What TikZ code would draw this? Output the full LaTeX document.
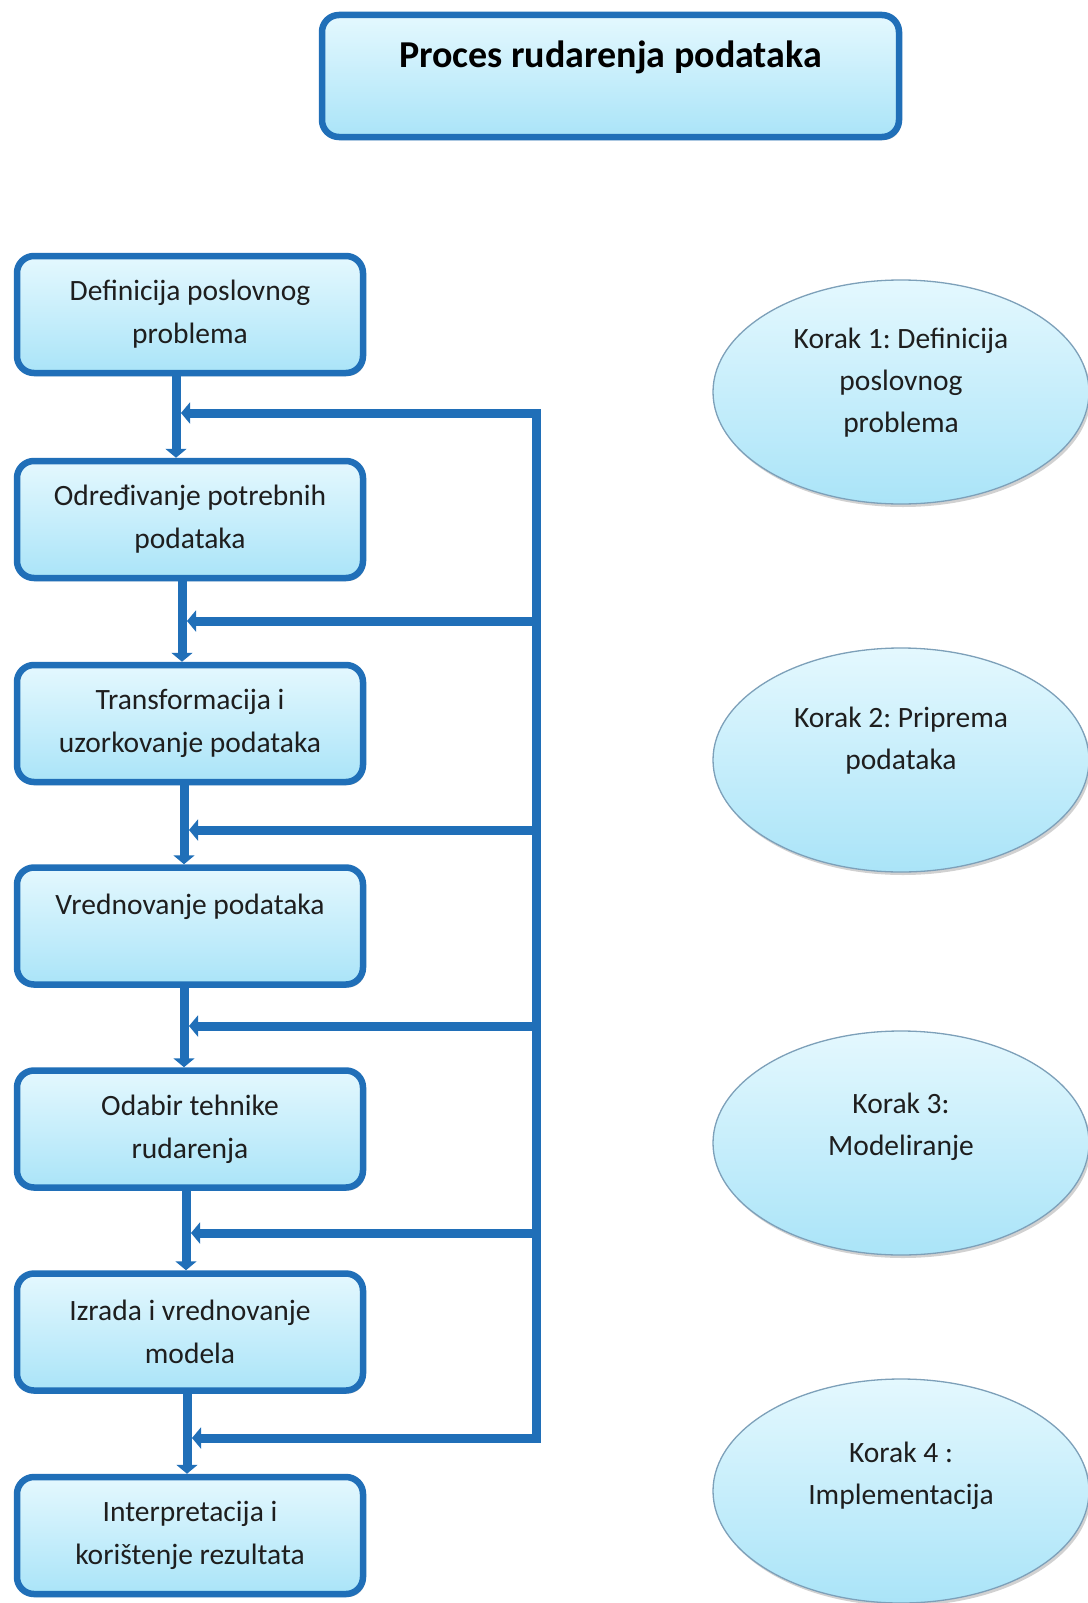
\documentclass[tikz,border=0pt]{standalone}
\usepackage{fontspec}
\setmainfont{Carlito}
\usetikzlibrary{shapes.geometric,shadows,arrows.meta}
\frenchspacing

\definecolor{edgeblue}{RGB}{32,111,184}
\definecolor{filltop}{RGB}{228,248,254}
\definecolor{fillbot}{RGB}{170,228,248}
\definecolor{ellline}{RGB}{125,160,185}
\definecolor{txt}{RGB}{30,30,30}

\tikzset{
  stepbox/.style={rectangle, rounded corners=17pt, draw=edgeblue, line width=6.5pt,
    top color=filltop, bottom color=fillbot,
    minimum width=346pt, minimum height=117pt, align=center, text=txt,
    font=\fontsize{29.5}{43}\selectfont,
    drop shadow={shadow xshift=2pt, shadow yshift=-3pt, opacity=0.22, fill=black}},
  titlebox/.style={stepbox, minimum width=577pt, minimum height=122pt,
    font=\fontsize{38}{44}\selectfont\bfseries, text=black},
  stepell/.style={ellipse, draw=ellline, line width=1.3pt,
    top color=filltop, bottom color=fillbot,
    minimum width=376pt, minimum height=224pt, inner sep=0pt,
    drop shadow={shadow xshift=2pt, shadow yshift=-3pt, opacity=0.18, fill=black}},
  elltext/.style={align=center, text=txt, font=\fontsize{29.5}{42}\selectfont},
  flow/.style={draw=edgeblue, line width=9pt},
  flowarrow/.style={flow, -{Triangle[length=9pt,width=21pt]}},
}

\begin{document}
\begin{tikzpicture}[x=1pt,y=-1pt]
\useasboundingbox[fill=white] (0,0) rectangle (1087,1603);

% heading
\node[titlebox] (title) at (610.5,76) {Proces rudarenja podataka\\\mbox{}};

% process steps
\node[stepbox] (b1) at (190,314.5) {Definicija poslovnog\\problema};
\node[stepbox] (b2) at (190,519.5) {Određivanje potrebnih\\podataka};
\node[stepbox] (b3) at (190,723.5) {Transformacija i\\uzorkovanje podataka};
\node[stepbox] (b4) at (190,926) {Vrednovanje podataka\\\mbox{}};
\node[stepbox] (b5) at (190,1129) {Odabir tehnike\\rudarenja};
\node[stepbox] (b6) at (190,1332) {Izrada i vrednovanje\\modela};
\node[stepbox] (b7) at (190,1535.5) {Interpretacija i\\korištenje rezultata};

% phases
\node[stepell] (e1) at (901,392) {};
\node[elltext] (t1) at (901,383) {Korak 1: Definicija\\poslovnog\\problema};
\node[stepell] (e2) at (901,760) {};
\node[elltext] (t2) at (901,741) {Korak 2: Priprema\\podataka};
\node[stepell] (e3) at (901,1143) {};
\node[elltext] (t3) at (901,1127) {Korak 3:\\Modeliranje};
\node[stepell] (e4) at (901,1491) {};
\node[elltext] (t4) at (901,1476) {Korak 4 :\\Implementacija};

% forward connectors between steps
\draw[flowarrow] ([xshift=-14pt]b1.south) -- ([xshift=-14pt]b2.north);
\draw[flowarrow] ([xshift=-8pt]b2.south) -- ([xshift=-8pt]b3.north);
\draw[flowarrow] ([xshift=-6pt]b3.south) -- ([xshift=-6pt]b4.north);
\draw[flowarrow] ([xshift=-6pt]b4.south) -- ([xshift=-6pt]b5.north);
\draw[flowarrow] ([xshift=-4pt]b5.south) -- ([xshift=-4pt]b6.north);
\draw[flowarrow] ([xshift=-3pt]b6.south) -- ([xshift=-3pt]b7.north);

% feedback bus on the right
\coordinate (r1) at (536,413);
\coordinate (r2) at (536,621);
\coordinate (r3) at (536,830);
\coordinate (r4) at (536,1026);
\coordinate (r5) at (536,1233);
\coordinate (r6) at (536,1438);
\coordinate (j1) at (181,413);
\coordinate (j2) at (187,621);
\coordinate (j3) at (189,830);
\coordinate (j4) at (189,1026);
\coordinate (j5) at (191,1233);
\coordinate (j6) at (192,1438);

\draw[flow, line cap=rect] (r1) -- (r6);
\draw[flowarrow] (r1) -- (j1);
\draw[flowarrow] (r2) -- (j2);
\draw[flowarrow] (r3) -- (j3);
\draw[flowarrow] (r4) -- (j4);
\draw[flowarrow] (r5) -- (j5);
\draw[flowarrow] (r6) -- (j6);
\end{tikzpicture}
\end{document}
